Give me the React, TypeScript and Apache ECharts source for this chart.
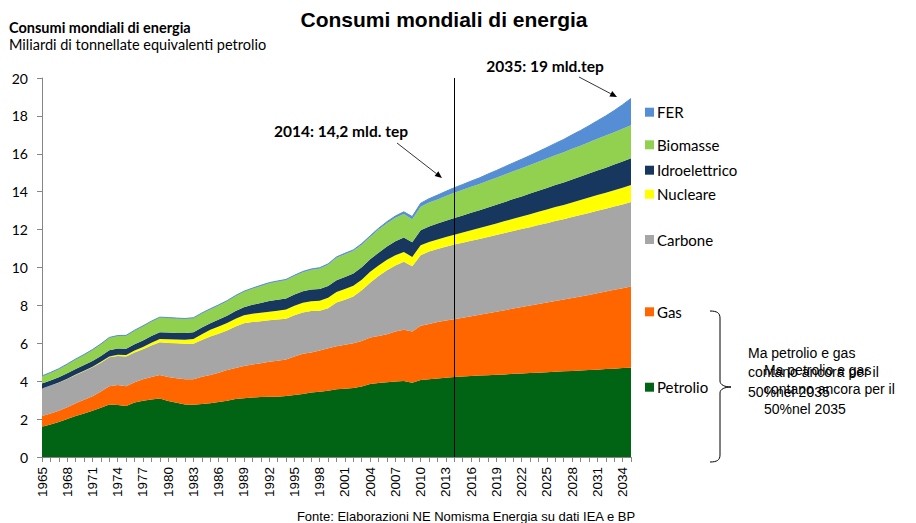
import { useEffect, useRef } from "react";
import * as echarts from "echarts";

const years: string[] = Array.from({ length: 71 }, (_, i) => String(1965 + i));

const petrolio = [1.59,1.72,1.85,2.00,2.16,2.30,2.44,2.60,2.77,2.74,
2.69,2.88,2.97,3.04,3.09,2.96,2.86,2.77,2.76,2.80,
2.83,2.90,2.97,3.06,3.10,3.14,3.16,3.18,3.18,3.22,
3.27,3.33,3.40,3.44,3.50,3.57,3.60,3.64,3.72,3.85,
3.90,3.94,3.99,4.01,3.92,4.06,4.10,4.14,4.18,4.22,
4.25,4.27,4.30,4.32,4.34,4.36,4.39,4.41,4.43,4.45,
4.47,4.50,4.52,4.54,4.57,4.59,4.61,4.64,4.66,4.69,
4.71];

const gas = [0.57,0.58,0.59,0.63,0.67,0.72,0.77,0.86,0.97,1.06,
1.05,1.07,1.13,1.18,1.24,1.26,1.29,1.33,1.34,1.44,
1.50,1.55,1.62,1.64,1.70,1.74,1.79,1.85,1.90,1.93,
2.03,2.12,2.12,2.18,2.24,2.28,2.32,2.36,2.40,2.45,
2.48,2.54,2.63,2.70,2.70,2.86,2.92,2.98,3.02,3.05,
3.10,3.16,3.21,3.27,3.33,3.39,3.44,3.50,3.56,3.62,
3.68,3.73,3.79,3.85,3.90,3.96,4.03,4.09,4.16,4.22,
4.29];

const carbone = [1.46,1.47,1.48,1.49,1.50,1.51,1.52,1.52,1.52,1.53,
1.56,1.57,1.59,1.66,1.72,1.80,1.85,1.87,1.87,1.94,
2.03,2.05,2.08,2.18,2.26,2.24,2.21,2.19,2.17,2.15,
2.18,2.17,2.18,2.10,2.11,2.30,2.38,2.47,2.68,2.90,
3.17,3.37,3.48,3.59,3.44,3.73,3.83,3.86,3.90,3.94,
3.96,3.98,4.00,4.02,4.04,4.07,4.09,4.12,4.14,4.17,
4.19,4.22,4.24,4.27,4.30,4.33,4.35,4.37,4.40,4.42,
4.45];

const nucleare = [0.00,0.00,0.01,0.01,0.02,0.02,0.03,0.04,0.05,0.06,
0.08,0.10,0.12,0.15,0.18,0.20,0.20,0.22,0.26,0.30,
0.35,0.38,0.40,0.42,0.42,0.44,0.45,0.45,0.47,0.48,
0.50,0.52,0.52,0.53,0.55,0.56,0.57,0.57,0.56,0.57,
0.56,0.56,0.55,0.52,0.50,0.52,0.50,0.50,0.51,0.52,
0.54,0.56,0.57,0.59,0.61,0.63,0.65,0.66,0.68,0.70,
0.72,0.74,0.75,0.77,0.79,0.81,0.83,0.85,0.86,0.88,
0.90];

const idroelettrico = [0.26,0.27,0.28,0.29,0.30,0.30,0.31,0.31,0.32,0.33,
0.33,0.33,0.34,0.35,0.35,0.35,0.35,0.35,0.35,0.35,
0.35,0.37,0.38,0.40,0.42,0.47,0.52,0.56,0.58,0.59,
0.60,0.61,0.62,0.62,0.62,0.62,0.63,0.64,0.65,0.66,
0.67,0.70,0.73,0.76,0.77,0.80,0.82,0.84,0.86,0.88,
0.90,0.92,0.94,0.97,0.99,1.01,1.04,1.06,1.09,1.11,
1.14,1.16,1.19,1.22,1.24,1.27,1.30,1.32,1.35,1.38,
1.41];

const biomasse = [0.39,0.41,0.44,0.48,0.51,0.55,0.59,0.63,0.67,0.68,
0.70,0.73,0.76,0.78,0.79,0.78,0.77,0.76,0.75,0.75,
0.74,0.76,0.78,0.80,0.83,0.86,0.90,0.94,0.96,0.97,
0.98,1.00,1.04,1.08,1.13,1.18,1.20,1.20,1.19,1.18,
1.22,1.23,1.24,1.24,1.22,1.24,1.26,1.27,1.30,1.33,
1.35,1.37,1.39,1.41,1.43,1.45,1.47,1.49,1.51,1.53,
1.55,1.57,1.59,1.61,1.63,1.65,1.67,1.69,1.71,1.73,
1.75];

const fer = [0.01,0.01,0.01,0.01,0.01,0.01,0.01,0.01,0.01,0.01,
0.01,0.01,0.01,0.01,0.01,0.01,0.01,0.01,0.02,0.02,
0.02,0.02,0.02,0.02,0.02,0.02,0.03,0.03,0.03,0.03,
0.03,0.04,0.04,0.04,0.04,0.05,0.05,0.05,0.06,0.06,
0.07,0.08,0.10,0.12,0.14,0.18,0.20,0.23,0.25,0.27,
0.28,0.30,0.32,0.35,0.38,0.41,0.44,0.47,0.50,0.54,
0.58,0.63,0.68,0.74,0.80,0.87,0.95,1.04,1.14,1.27,
1.41];

const seriesNames = ["Petrolio", "Gas", "Carbone", "Nucleare", "Idroelettrico", "Biomasse", "FER"];
const seriesData = [petrolio, gas, carbone, nucleare, idroelettrico, biomasse, fer];
const seriesColors = ["#006414", "#ff6600", "#a6a6a6", "#ffff00", "#17375e", "#92d050", "#558ed5"];

const markYear = "2014";
const yTicks = { min: 0, max: 20, interval: 2 };

const legendLayout: [string, number][] = [
  ["FER", 112.7],
  ["Biomasse", 145.3],
  ["Idroelettrico", 170.7],
  ["Nucleare", 194.7],
  ["Carbone", 240],
  ["Gas", 312.3],
  ["Petrolio", 387.7],
];

const noteText = "Ma petrolio e gas\ncontano ancora per il\n50%nel 2035";

export default function App() {
  const ref = useRef<HTMLDivElement>(null);
  useEffect(() => {
    const chart = echarts.init(ref.current!, null, { renderer: "svg" });
    const series: any[] = seriesNames.map((name, i) => ({
      name,
      type: "line",
      stack: "total",
      data: seriesData[i],
      symbol: "none",
      showSymbol: false,
      smooth: false,
      lineStyle: { width: name === "FER" ? 1 : 0, color: seriesColors[i] },
      itemStyle: { color: seriesColors[i] },
      areaStyle: { color: seriesColors[i], opacity: 1 },
      emphasis: { disabled: true },
      z: 2,
    }));
    series[series.length - 1].markLine = {
      silent: true,
      symbol: ["none", "none"],
      label: { show: false },
      lineStyle: { color: "#000", width: 1, type: "solid" },
      data: [{ xAxis: markYear }],
      z: 10,
    };

    const arrow = (x1: number, y1: number, x2: number, y2: number) => {
      const dx = x2 - x1, dy = y2 - y1;
      const len = Math.sqrt(dx * dx + dy * dy);
      const ux = dx / len, uy = dy / len;
      const bx = x2 - ux * 7, by = y2 - uy * 7;
      const px = -uy * 3, py = ux * 3;
      return [
        { type: "line", shape: { x1, y1, x2: bx, y2: by }, style: { stroke: "#000", lineWidth: 0.8 } },
        { type: "polygon", shape: { points: [[x2, y2], [bx + px, by + py], [bx - px, by - py]] }, style: { fill: "#000" } },
      ];
    };

    const stroke = { stroke: "#000", lineWidth: 1, fill: "none" };

    chart.setOption({
      animation: false,
      backgroundColor: "#fff",
      grid: { left: 42, right: 285, top: 78, bottom: 66, containLabel: false },
      xAxis: {
        type: "category",
        data: years,
        boundaryGap: false,
        axisLine: { lineStyle: { color: "#868686" } },
        axisTick: { show: true, interval: 0, length: 5, lineStyle: { color: "#868686" } },
        axisLabel: {
          interval: 2,
          rotate: 90,
          margin: 10,
          fontFamily: "Liberation Sans",
          fontSize: 13.5,
          color: "#000",
        },
        splitLine: { show: false },
      },
      yAxis: {
        type: "value",
        min: yTicks.min,
        max: yTicks.max,
        interval: yTicks.interval,
        axisLine: { show: true, lineStyle: { color: "#868686" } },
        axisTick: { show: true, length: 5, lineStyle: { color: "#868686" } },
        axisLabel: { margin: 14, fontFamily: "Lato", fontSize: 14, color: "#000" },
        splitLine: { show: false },
      },
      legend: legendLayout.map(([name, y]) => ({
        data: [name],
        left: 645,
        top: y - 8,
        orient: "vertical",
        icon: "rect",
        itemWidth: 9,
        itemHeight: 9,
        itemGap: 0,
        padding: 0,
        selectedMode: false,
        textStyle: { fontFamily: "Lato", fontSize: 15, color: "#000", padding: [0, 0, 0, -2] },
      })),
      series,
      graphic: [
        { type: "text", x: 444, y: 19, style: { text: "Consumi mondiali di energia", font: 'bold 21px "Liberation Sans"', fill: "#000", textAlign: "center", textVerticalAlign: "middle" } },
        { type: "text", x: 9, y: 27, style: { text: "Consumi mondiali di energia", font: "bold 14.5px Lato", fill: "#000", textVerticalAlign: "middle" } },
        { type: "text", x: 9, y: 44, style: { text: "Miliardi di tonnellate equivalenti petrolio", font: "14.5px Lato", fill: "#000", textVerticalAlign: "middle" } },
        { type: "text", x: 545, y: 66, style: { text: "2035: 19 mld.tep", font: "bold 15.5px Lato", fill: "#000", textAlign: "center", textVerticalAlign: "middle" } },
        { type: "text", x: 341, y: 131, style: { text: "2014: 14,2 mld. tep", font: "bold 15.5px Lato", fill: "#000", textAlign: "center", textVerticalAlign: "middle" } },
        ...arrow(579, 77, 617, 97),
        ...arrow(397, 143, 442, 178),
        { type: "bezierCurve", shape: { x1: 710, y1: 311, cpx1: 717, cpy1: 311, cpx2: 720, cpy2: 313, x2: 720, y2: 318 }, style: stroke },
        { type: "line", shape: { x1: 720, y1: 318, x2: 720, y2: 381 }, style: stroke },
        { type: "bezierCurve", shape: { x1: 720, y1: 381, cpx1: 720, cpy1: 385, cpx2: 725, cpy2: 387, x2: 731, y2: 387 }, style: stroke },
        { type: "bezierCurve", shape: { x1: 731, y1: 387, cpx1: 725, cpy1: 387, cpx2: 720, cpy2: 389, x2: 720, y2: 393 }, style: stroke },
        { type: "line", shape: { x1: 720, y1: 393, x2: 720, y2: 455 }, style: stroke },
        { type: "bezierCurve", shape: { x1: 720, y1: 455, cpx1: 720, cpy1: 460, cpx2: 717, cpy2: 462, x2: 710, y2: 462 }, style: stroke },
        { type: "text", x: 748, y: 343, style: { text: noteText, font: '14px "Liberation Sans"', lineHeight: 19.5, fill: "#000", textVerticalAlign: "top" } },
        { type: "text", x: 764, y: 360, style: { text: noteText, font: '14px "Liberation Sans"', lineHeight: 19.5, fill: "#000", textVerticalAlign: "top" } },
        { type: "text", x: 466, y: 516, style: { text: "Fonte: Elaborazioni NE Nomisma Energia su dati IEA e BP", font: '13px "Liberation Sans"', fill: "#000", textAlign: "center", textVerticalAlign: "middle" } },
      ],
    });
    return () => chart.dispose();
  }, []);
  return (
    <div
      ref={ref}
      style={{ position: "absolute", left: 0, top: 0, width: 916, height: 523, background: "#fff" }}
    />
  );
}
